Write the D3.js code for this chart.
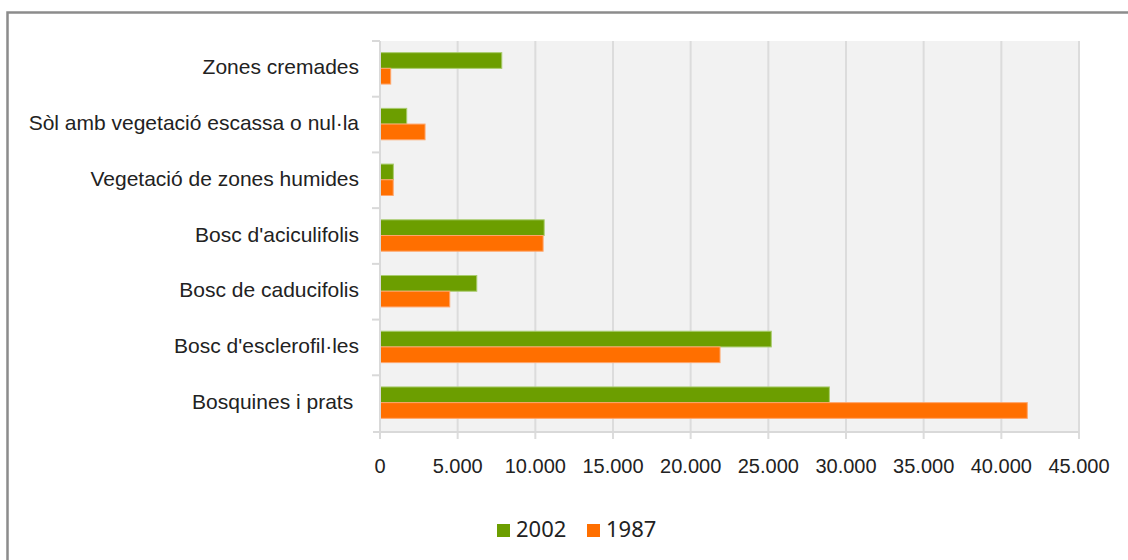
<!DOCTYPE html>
<html>
<head>
<meta charset="utf-8">
<script src="https://cdn.jsdelivr.net/npm/d3@7"></script>
<style>
  body { margin: 0; background: #fff; }
  svg { display: block; }
</style>
</head>
<body>
<svg id="chart" width="1128" height="560"></svg>
<script>
// land cover categories, top to bottom
const categories = [
  "Zones cremades",
  "Sòl amb vegetació escassa o nul·la",
  "Vegetació de zones humides",
  "Bosc d'aciculifolis",
  "Bosc de caducifolis",
  "Bosc d'esclerofil·les",
  "Bosquines i prats "
]
const values2002 = [7840, 1720, 860, 10570, 6230, 25190, 28930]
const values1987 = [690, 2900, 850, 10500, 4490, 21890, 41670]
const seriesNames = ["2002", "1987"]
const xTicks = [0, 5000, 10000, 15000, 20000, 25000, 30000, 35000, 40000, 45000]

const colors = {"2002": "#6c9e00", "1987": "#ff6f00"}
const strokes = {"2002": "#a9cc6e", "1987": "#ffa56a"}

const svg = d3.select("#chart")

// outer frame
svg.append("rect")
  .attr("x", 7.5).attr("y", 12.5)
  .attr("width", 1140).attr("height", 560)
  .attr("fill", "none")
  .attr("stroke", "#8c8c8c")
  .attr("stroke-width", 2.5)

const plotL = 380, plotR = 1079, plotT = 41, plotB = 431

const x = d3.scaleLinear().domain([0, 45000]).range([plotL, plotR])
const y = d3.scaleBand().domain(categories).range([plotT, plotB])
const barH = 15.7

const g = svg.append("g")

g.append("rect")
  .attr("x", plotL).attr("y", plotT)
  .attr("width", plotR - plotL).attr("height", plotB - plotT)
  .attr("fill", "#f2f2f2")

// vertical grid
g.selectAll(".grid")
  .data(xTicks.slice(1))
  .enter().append("line")
  .attr("x1", d => x(d)).attr("x2", d => x(d))
  .attr("y1", plotT).attr("y2", plotB + 8)
  .attr("stroke", "#dcdcdc")
  .attr("stroke-width", 2)

// bars
const rows = categories.map((c, i) => ({cat: c, v: {"2002": values2002[i], "1987": values1987[i]}}))
seriesNames.forEach((s, k) => {
  g.selectAll(".bar" + s)
    .data(rows)
    .enter().append("rect")
    .attr("x", plotL)
    .attr("y", d => y(d.cat) + y.bandwidth() / 2 - barH + k * barH - 0.5)
    .attr("width", d => x(d.v[s]) - plotL)
    .attr("height", barH)
    .attr("fill", colors[s])
    .attr("stroke", strokes[s])
    .attr("stroke-width", 1)
})

// axis lines
g.append("line")
  .attr("x1", plotL - 7).attr("x2", plotR)
  .attr("y1", plotB + 1).attr("y2", plotB + 1)
  .attr("stroke", "#d9d9d9").attr("stroke-width", 2)
g.append("line")
  .attr("x1", plotL).attr("x2", plotL)
  .attr("y1", plotT).attr("y2", plotB + 8)
  .attr("stroke", "#d9d9d9").attr("stroke-width", 2)

// left ticks at band boundaries
g.selectAll(".ytick")
  .data(categories)
  .enter().append("line")
  .attr("x1", plotL - 8).attr("x2", plotL)
  .attr("y1", d => y(d)).attr("y2", d => y(d))
  .attr("stroke", "#d9d9d9").attr("stroke-width", 2)

// category labels
g.selectAll(".ylab")
  .data(categories)
  .enter().append("text")
  .attr("x", 359)
  .attr("y", d => y(d) + y.bandwidth() / 2)
  .attr("text-anchor", "end")
  .attr("dominant-baseline", "middle")
  .style("white-space", "pre")
  .attr("font-family", "'Liberation Sans', Arial, sans-serif")
  .attr("font-size", 21)
  .attr("fill", "#222")
  .text(d => d)

// x tick labels
const fmt = d3.formatLocale({decimal: ",", thousands: ".", grouping: [3], currency: ["", ""]}).format(",")
g.selectAll(".xlab")
  .data(xTicks)
  .enter().append("text")
  .attr("x", d => x(d))
  .attr("y", 468)
  .attr("text-anchor", "middle")
  .attr("dominant-baseline", "middle")
  .attr("font-family", "'Liberation Sans', Arial, sans-serif")
  .attr("font-size", 20)
  .attr("fill", "#222")
  .text(d => fmt(d))

// legend
const legend = svg.append("g")
const legX = [497, 587]
seriesNames.forEach((s, i) => {
  legend.append("rect")
    .attr("x", legX[i]).attr("y", 524)
    .attr("width", 13).attr("height", 13)
    .attr("fill", colors[s])
  legend.append("text")
    .attr("x", legX[i] + 19)
    .attr("y", 531)
    .attr("dominant-baseline", "middle")
    .attr("font-family", "'Noto Sans', sans-serif")
    .attr("font-size", 22)
    .attr("fill", "#222")
    .text(s)
})
</script>
</body>
</html>
